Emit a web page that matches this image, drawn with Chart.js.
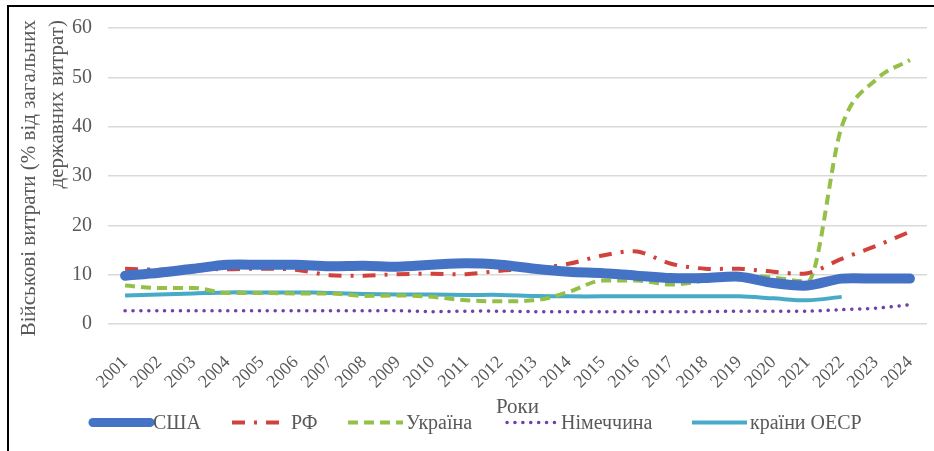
<!DOCTYPE html>
<html>
<head>
<meta charset="utf-8">
<script src="https://cdn.jsdelivr.net/npm/chart.js@4.4.1/dist/chart.umd.min.js"></script>
<style>
    html, body { margin: 0; padding: 0; background: #fff; }
    #wrap { width: 934px; height: 451px; position: relative; }
</style>
</head>
<body>
<div id="wrap"><canvas id="militaryChart" width="934" height="451"></canvas></div>
<script>
var years = ['2001','2002','2003','2004','2005','2006','2007','2008','2009','2010','2011','2012',
    '2013','2014','2015','2016','2017','2018','2019','2020','2021','2022','2023','2024'];

var usaValues = [9.8,10.4,11.2,12,12,12,11.7,11.8,11.6,12,12.3,12,
    11.2,10.6,10.3,9.8,9.3,9.3,9.6,8.3,7.8,9.2,9.2,9.2];
var rfValues = [11.2,11,11.2,11.1,11.2,11,9.9,9.8,10.1,10.2,10.1,10.8,
    11.2,12.2,13.9,14.7,12.2,11.2,11.2,10.6,10.3,13.2,15.8,18.7];
var ukrValues = [7.8,7.3,7.3,6.3,6.3,6.2,6.2,5.7,5.8,5.5,4.8,4.6,
    4.8,6.5,8.8,8.8,8,8.8,9.9,9.4,8.6,40,49.5,53.5];
var gerValues = [2.7,2.7,2.7,2.7,2.7,2.7,2.7,2.7,2.7,2.5,2.6,2.6,
    2.5,2.5,2.5,2.5,2.5,2.5,2.6,2.6,2.6,2.9,3.2,3.9];
var oecdValues = [5.8,6,6.2,6.4,6.4,6.4,6.3,6.1,6,6,5.9,5.9,
    5.7,5.6,5.6,5.6,5.6,5.6,5.6,5.2,4.8,5.5,null,null];

var yTicks = [0,10,20,30,40,50,60];
var yTitleLines = ['Військові витрати (% від загальних', 'державних витрат)'];

var fontName = "Liberation Serif";
var textColor = '#595959';

// legend drawn by hand so the dash patterns show
var legendItems = [
    {x: 93,  w: 57, idx: 0},
    {x: 232, w: 56, idx: 1},
    {x: 348, w: 55, idx: 2},
    {x: 507, w: 51, idx: 3},
    {x: 692, w: 55, idx: 4}
];

var customLegend = {
    id: 'customLegend',
    afterDraw: function(chart){
        var c = chart.ctx;
        var y = 422.5;
        legendItems.forEach(function(item){
            var ds = chart.data.datasets[item.idx];
            c.save();
            c.beginPath();
            c.strokeStyle = ds.borderColor;
            c.lineWidth = item.idx === 0 ? 9 : ds.borderWidth;
            c.lineCap = ds.borderCapStyle || 'butt';
            c.setLineDash(ds.borderDash || []);
            c.moveTo(item.x, y);
            c.lineTo(item.x + item.w, y);
            c.stroke();
            c.restore();
            c.save();
            c.font = '20px "' + fontName + '"';
            c.fillStyle = textColor;
            c.textBaseline = 'middle';
            c.textAlign = 'left';
            c.fillText(ds.label, item.x + item.w + 3, y + 1);
            c.restore();
        });
    }
};

// rotated two-line title of the value axis
var yTitle = {
    id: 'yTitle',
    afterDraw: function(chart){
        var c = chart.ctx;
        c.save();
        c.font = '21px "' + fontName + '"';
        c.fillStyle = textColor;
        c.textAlign = 'right';
        c.textBaseline = 'middle';
        c.translate(0, 20);
        c.rotate(-Math.PI / 2);
        c.fillText(yTitleLines[0], 0, 29);
        c.fillText(yTitleLines[1], 0, 57);
        c.restore();
    }
};

var frameLines = {
    id: 'frameLines',
    afterDraw: function(chart){
        var c = chart.ctx;
        c.save();
        c.strokeStyle = '#000';
        c.lineWidth = 2;
        c.beginPath();
        c.moveTo(8, 451);
        c.lineTo(8, 6);
        c.lineTo(934, 6);
        c.stroke();
        c.restore();
    }
};

var cont = document.getElementById('militaryChart').getContext('2d');
var myChart = new Chart(cont, {
    type: 'line',
    data: {
        labels: years,
        datasets: [{
            label: 'США',
            data: usaValues,
            borderColor: '#4472c4',
            borderWidth: 10,
            borderCapStyle: 'round',
            tension: 0.3
        }, {
            label: 'РФ',
            data: rfValues,
            borderColor: '#d0423c',
            borderWidth: 4,
            borderDash: [13, 9, 3, 9],
            tension: 0.3
        }, {
            label: 'Україна',
            data: ukrValues,
            borderColor: '#94c047',
            borderWidth: 4,
            borderDash: [10, 6],
            cubicInterpolationMode: 'monotone'
        }, {
            label: 'Німеччина',
            data: gerValues,
            borderColor: '#7040a8',
            borderWidth: 3.5,
            borderDash: [0.1, 7.8],
            borderCapStyle: 'round',
            tension: 0.3
        }, {
            label: 'країни ОЕСР',
            data: oecdValues,
            borderColor: '#46aac8',
            borderWidth: 4,
            tension: 0.3
        }]
    },
    options: {
        responsive: false,
        animation: false,
        elements: {
            point: { radius: 0 }
        },
        layout: {
            padding: { left: 10, right: 7, top: 18, bottom: 31 }
        },
        scales: {
            x: {
                offset: true,
                grid: { display: false },
                border: { display: false },
                ticks: {
                    color: textColor,
                    font: { family: fontName, size: 18 },
                    autoSkip: false,
                    maxRotation: 45,
                    minRotation: 45,
                    padding: 20
                },
                title: {
                    display: true,
                    text: 'Роки',
                    color: textColor,
                    font: { family: fontName, size: 21 },
                    padding: { top: 0, bottom: 0 }
                },
                afterFit: function(scale){
                    scale.height = 96;
                    scale.paddingLeft = 0;
                    scale.paddingRight = 0;
                }
            },
            y: {
                min: 0,
                max: 60,
                afterBuildTicks: function(scale){
                    scale.ticks = yTicks.map(function(v){ return {value: v}; });
                },
                grid: {
                    color: '#d9d9d9',
                    lineWidth: 1.5,
                    drawTicks: false
                },
                border: { display: false },
                ticks: {
                    color: textColor,
                    font: { family: fontName, size: 20 },
                    padding: 16
                },
                afterFit: function(scale){ scale.width = 98; }
            }
        },
        plugins: {
            legend: { display: false },
            tooltip: { enabled: false }
        }
    },
    plugins: [customLegend, yTitle, frameLines]
});
</script>
</body>
</html>
